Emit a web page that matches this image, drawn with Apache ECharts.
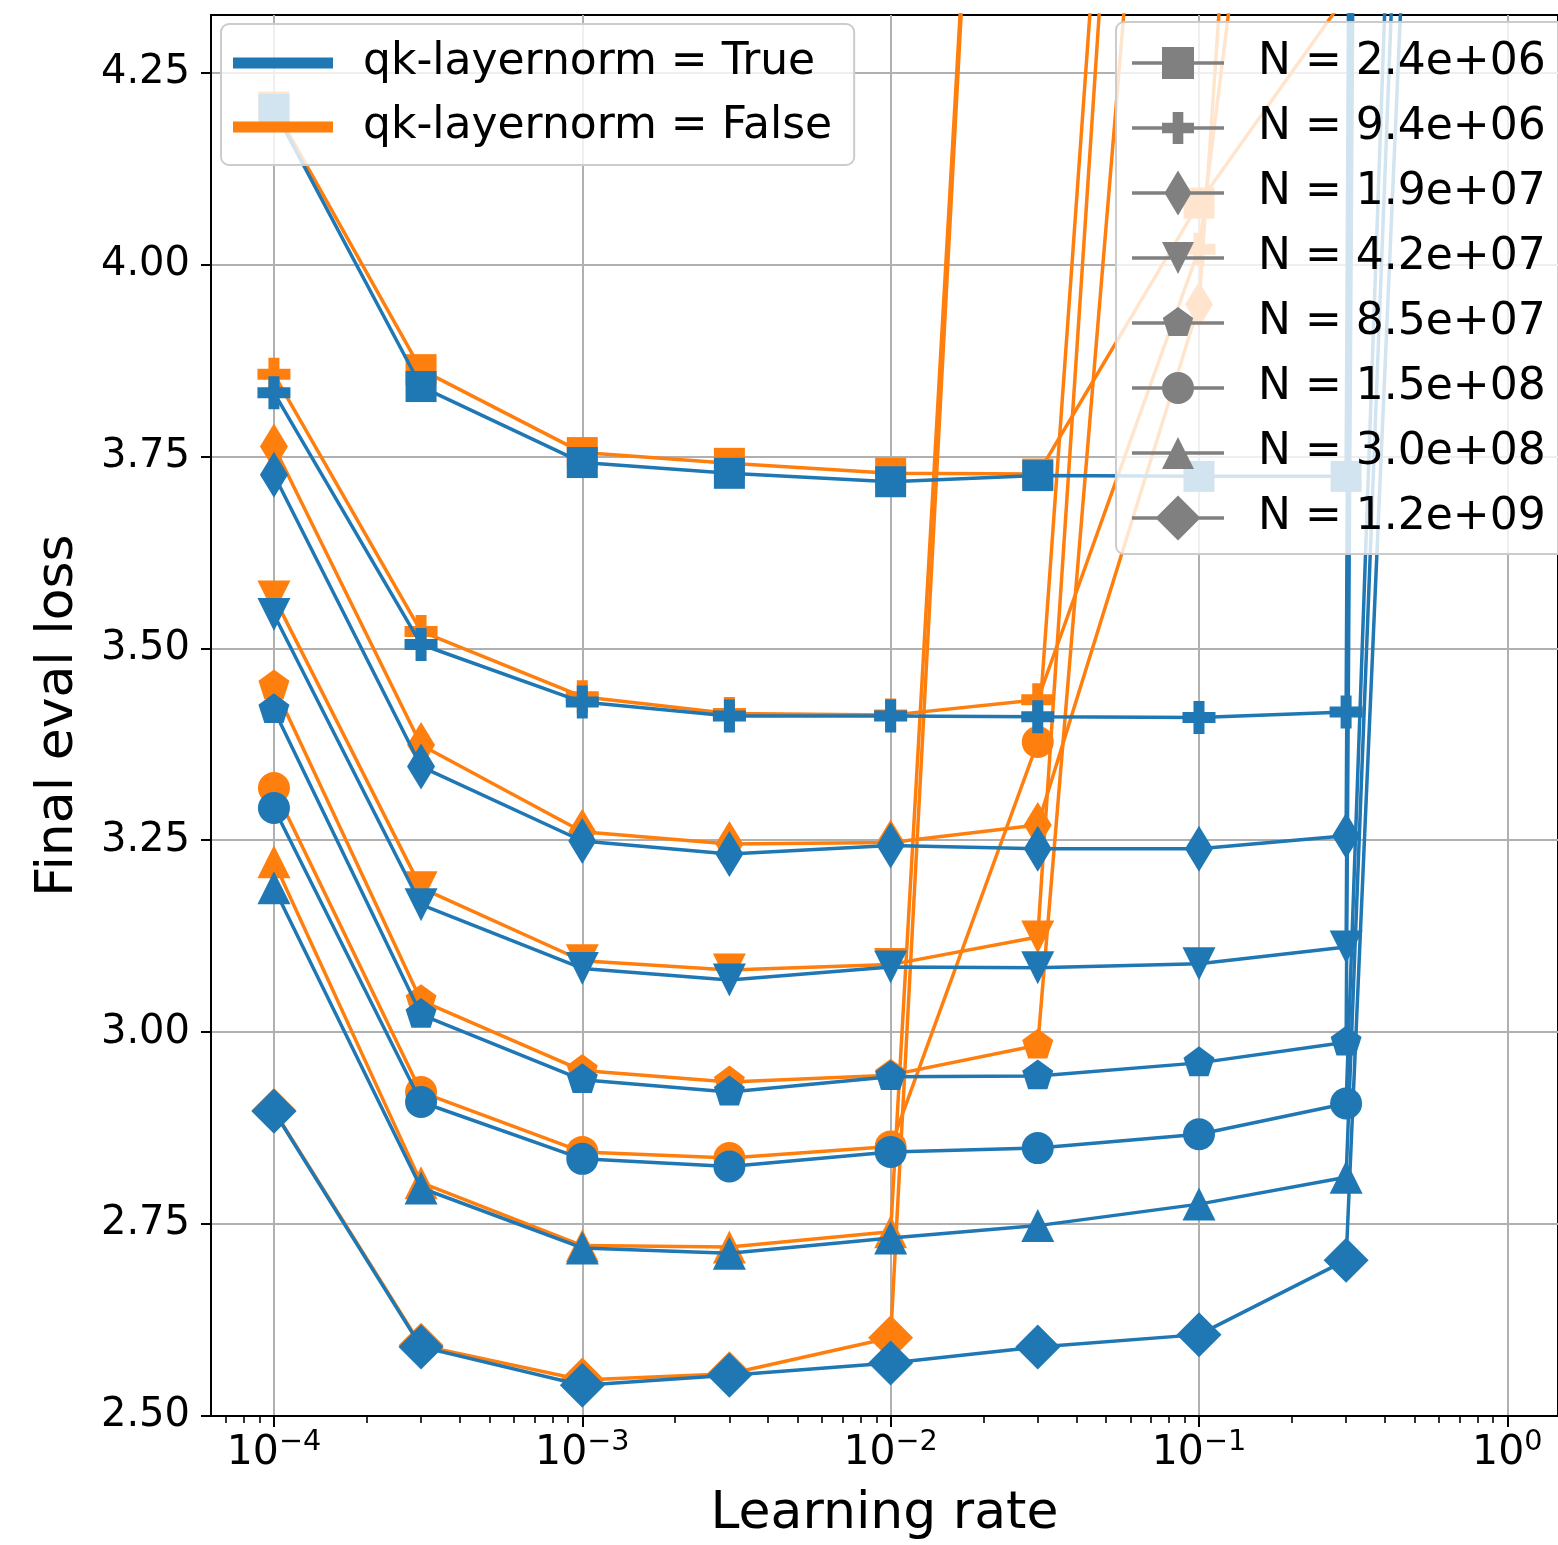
<!DOCTYPE html>
<html><head><meta charset="utf-8">
<script src="https://cdn.jsdelivr.net/npm/echarts@6/dist/echarts.min.js"></script>
<style>html,body{margin:0;padding:0;background:#fff}#chart{width:1558px;height:1545px}</style>
</head><body><div id="chart"></div>
<script>
// ---------------- data ----------------
const learningRates = [1e-4, 3e-4, 1e-3, 3e-3, 1e-2, 3e-2, 1e-1, 3e-1, 1e0];
const modelSizes = ['2.4e+06', '9.4e+06', '1.9e+07', '4.2e+07', '8.5e+07', '1.5e+08', '3.0e+08', '1.2e+09'];

// qk-layernorm = True (blue)
const lossTrue_2_4e6 = [4.202, 3.841, 3.742, 3.728, 3.717, 3.725, 3.724, 3.724, 45];
const lossTrue_9_4e6 = [3.833, 3.505, 3.430, 3.412, 3.412, 3.411, 3.410, 3.417, 42];
const lossTrue_1_9e7 = [3.726, 3.346, 3.249, 3.232, 3.243, 3.239, 3.239, 3.256, 40];
const lossTrue_4_2e7 = [3.544, 3.166, 3.083, 3.068, 3.085, 3.084, 3.089, 3.111, 38];
const lossTrue_8_5e7 = [3.420, 3.023, 2.938, 2.922, 2.942, 2.943, 2.960, 2.987, 36];
const lossTrue_1_5e8 = [3.292, 2.909, 2.835, 2.825, 2.844, 2.849, 2.867, 2.907, 8.85];
const lossTrue_3_0e8 = [3.188, 2.797, 2.719, 2.712, 2.732, 2.748, 2.776, 2.811, 8.23];
const lossTrue_1_2e9 = [2.897, 2.590, 2.540, 2.553, 2.569, 2.590, 2.606, 2.703, 7.52];

// qk-layernorm = False (orange)
const lossFalse_2_4e6 = [4.205, 3.863, 3.755, 3.741, 3.728, 3.727, 4.08, 4.35];
const lossFalse_9_4e6 = [3.857, 3.522, 3.437, 3.415, 3.413, 3.433, 4.02, 5.55];
const lossFalse_1_9e7 = [3.763, 3.374, 3.261, 3.245, 3.247, 3.270, 3.948, 6.74];
const lossFalse_4_2e7 = [3.567, 3.188, 3.093, 3.081, 3.088, 3.124, 6.28];
const lossFalse_8_5e7 = [3.451, 3.041, 2.950, 2.935, 2.944, 2.983, 5.50];
const lossFalse_1_5e8 = [3.318, 2.922, 2.844, 2.836, 2.851, 3.378, 6.31];
const lossFalse_3_0e8 = [3.222, 2.804, 2.722, 2.720, 2.740, 6.10];
const lossFalse_1_2e9 = [2.898, 2.592, 2.547, 2.555, 2.602, 6.20];

const xMajorTicks = [1e-4, 1e-3, 1e-2, 1e-1, 1e0];
const yTicks = [2.5, 2.75, 3.0, 3.25, 3.5, 3.75, 4.0, 4.25];
const qkLabels = ['qk-layernorm = True', 'qk-layernorm = False'];

// ---------------- styling ----------------
const BLUE = '#1f77b4', ORANGE = '#ff7f0e', GRAY = '#808080';
const FONT = 'DejaVu Sans';
const X_MIN = 6.25e-5, X_MAX = 1.46;

const xMinorTicks = [];
for (let e = -5; e <= 0; e++) {
  for (let k = 2; k <= 9; k++) {
    const v = k * Math.pow(10, e);
    if (v > X_MIN && v < X_MAX) xMinorTicks.push(v);
  }
}

// plot markers
const markers = [
  { symbol: 'rect', size: 31, rotate: 0 },
  { symbol: 'path://M1 0L2 0L2 1L3 1L3 2L2 2L2 3L1 3L1 2L0 2L0 1L1 1Z', size: 33, rotate: 0 },
  { symbol: 'path://M0 -1L0.6 0L0 1L-0.6 0Z', size: [28, 46], rotate: 0 },
  { symbol: 'triangle', size: 33, rotate: 180 },
  { symbol: 'path://M0 -1L0.951 -0.309L0.588 0.809L-0.588 0.809L-0.951 -0.309ZM-0.951 1L-0.951 1', size: [31, 33], rotate: 0 },
  { symbol: 'circle', size: 32, rotate: 0 },
  { symbol: 'triangle', size: 33, rotate: 0 },
  { symbol: 'diamond', size: 45, rotate: 0 }
];

// legend icons (line + marker), drawn in a 121 x 46 box
function legendIcon(i) {
  const cx = 46, cy = 23, r = 16;
  const box = 'M0 0L0 0M121 46L121 46';
  const line = 'M0 21.25L92 21.25L92 24.75L0 24.75Z';
  const P = pts => 'M' + pts.map(p => p[0].toFixed(2) + ' ' + p[1].toFixed(2)).join('L') + 'Z';
  let m;
  switch (i) {
    case 0: m = P([[cx - r, cy - r], [cx + r, cy - r], [cx + r, cy + r], [cx - r, cy + r]]); break;
    case 1: m = P([[cx - r / 3, cy - r], [cx + r / 3, cy - r], [cx + r / 3, cy - r / 3], [cx + r, cy - r / 3], [cx + r, cy + r / 3], [cx + r / 3, cy + r / 3], [cx + r / 3, cy + r], [cx - r / 3, cy + r], [cx - r / 3, cy + r / 3], [cx - r, cy + r / 3], [cx - r, cy - r / 3], [cx - r / 3, cy - r / 3]]); break;
    case 2: m = P([[cx, cy - 22.5], [cx + 13.5, cy], [cx, cy + 22.5], [cx - 13.5, cy]]); break;
    case 3: m = P([[cx - r, cy - r], [cx + r, cy - r], [cx, cy + r]]); break;
    case 4: m = P([[cx, cy - r], [cx + 0.951 * r, cy - 0.309 * r], [cx + 0.588 * r, cy + 0.809 * r], [cx - 0.588 * r, cy + 0.809 * r], [cx - 0.951 * r, cy - 0.309 * r]]); break;
    case 5: m = 'M' + (cx + r) + ' ' + cy + 'A' + r + ' ' + r + ' 0 1 1 ' + (cx - r) + ' ' + cy + 'A' + r + ' ' + r + ' 0 1 1 ' + (cx + r) + ' ' + cy + 'Z'; break;
    case 6: m = P([[cx, cy - r], [cx + r, cy + r], [cx - r, cy + r]]); break;
    case 7: m = P([[cx, cy - 22.5], [cx + 22.5, cy], [cx, cy + 22.5], [cx - 22.5, cy]]); break;
  }
  return 'path://' + box + line + m;
}
const qkIcon = 'path://M0 0L0 0M125 44L125 44M0 16.5L100 16.5L100 27.5L0 27.5Z';

const trueData = [lossTrue_2_4e6, lossTrue_9_4e6, lossTrue_1_9e7, lossTrue_4_2e7, lossTrue_8_5e7, lossTrue_1_5e8, lossTrue_3_0e8, lossTrue_1_2e9];
const falseData = [lossFalse_2_4e6, lossFalse_9_4e6, lossFalse_1_9e7, lossFalse_4_2e7, lossFalse_8_5e7, lossFalse_1_5e8, lossFalse_3_0e8, lossFalse_1_2e9];

function makeSeries(values, i, color, tag) {
  const mk = markers[i];
  return {
    name: tag + ' N = ' + modelSizes[i],
    type: 'line',
    data: values.map((v, j) => [learningRates[j], v]),
    symbol: mk.symbol, symbolSize: mk.size, symbolRotate: mk.rotate,
    showSymbol: true, showAllSymbol: true, clip: true,
    lineStyle: { color: color, width: 3.5 },
    itemStyle: { color: color, borderWidth: 0 },
    emphasis: { disabled: true },
    z: tag === 'True' ? 3 : 2,
    legendHoverLink: false
  };
}

const series = [];
falseData.forEach((vals, i) => series.push(makeSeries(vals, i, ORANGE, 'False')));
trueData.forEach((vals, i) => series.push(makeSeries(vals, i, BLUE, 'True')));
// legend-only series
qkLabels.forEach((name, i) => series.push({ name, type: 'line', data: [], itemStyle: { color: i === 0 ? BLUE : ORANGE }, lineStyle: { color: i === 0 ? BLUE : ORANGE } }));
modelSizes.forEach(n => series.push({ name: 'N = ' + n, type: 'line', data: [], itemStyle: { color: GRAY }, lineStyle: { color: GRAY } }));

const option = {
  animation: false,
  backgroundColor: '#fff',
  textStyle: { fontFamily: FONT },
  grid: { left: 211, top: 15, right: 0, bottom: 129, show: true, borderColor: '#000', borderWidth: 2, backgroundColor: 'transparent' },
  xAxis: [{
    type: 'log', logBase: 10, min: X_MIN, max: X_MAX,
    position: 'bottom',
    axisLine: { show: true, onZero: false, lineStyle: { color: '#000', width: 2 } },
    axisTick: { show: true, length: 11, lineStyle: { color: '#000', width: 2 }, customValues: xMajorTicks },
    axisLabel: {
      customValues: xMajorTicks, margin: 12, color: '#000',
      formatter: v => { const e = Math.round(Math.log10(v)); return '{b|10}{s|' + (e < 0 ? '\u2212' + (-e) : String(e)) + '}'; },
      rich: {
        b: { fontSize: 41, fontFamily: FONT, color: '#000', lineHeight: 46, verticalAlign: 'bottom' },
        s: { fontSize: 28.7, fontFamily: FONT, color: '#000', lineHeight: 30, verticalAlign: 'top' }
      }
    },
    splitLine: { show: true, lineStyle: { color: '#b0b0b0', width: 2 } },
    minorTick: { show: false },
    name: 'Learning rate', nameLocation: 'middle', nameGap: 72,
    nameTextStyle: { fontSize: 52, fontFamily: FONT, color: '#000' }
  }, {
    type: 'log', logBase: 10, min: X_MIN, max: X_MAX, gridIndex: 0,
    position: 'bottom',
    axisLine: { show: false, onZero: false },
    axisTick: { show: true, length: 7, lineStyle: { color: '#000', width: 1.6 }, customValues: xMinorTicks },
    axisLabel: { show: false },
    splitLine: { show: false }
  }],
  yAxis: {
    type: 'value', min: 2.5, max: 4.325, interval: 0.25,
    axisLine: { show: true, onZero: false, lineStyle: { color: '#000', width: 2 } },
    axisTick: { show: true, length: 10, lineStyle: { color: '#000', width: 2 }, customValues: yTicks },
    axisLabel: { customValues: yTicks, formatter: v => v.toFixed(2), fontSize: 40, fontFamily: FONT, color: '#000', margin: 21 },
    splitLine: { show: true, lineStyle: { color: '#b0b0b0', width: 2 } },
    name: 'Final eval loss', nameLocation: 'middle', nameGap: 127,
    nameTextStyle: { fontSize: 52, fontFamily: FONT, color: '#000' }
  },
  legend: [{
    orient: 'vertical', left: 221, top: 24, align: 'left',
    padding: [17, 22, 16, 12], itemGap: 20, itemWidth: 125, itemHeight: 44,
    backgroundColor: 'rgba(255,255,255,0.8)', borderColor: '#cccccc', borderWidth: 2, borderRadius: 8,
    selectedMode: false,
    textStyle: { fontSize: 44, fontFamily: FONT, color: '#000', lineHeight: 44 },
    data: qkLabels.map((n, i) => ({ name: n, icon: qkIcon, itemStyle: { color: i === 0 ? BLUE : ORANGE, borderWidth: 0 } }))
  }, {
    orient: 'vertical', left: 1116, top: 22, align: 'left',
    padding: [18, 20, 13, 16], itemGap: 19, itemWidth: 121, itemHeight: 46,
    backgroundColor: 'rgba(255,255,255,0.8)', borderColor: '#cccccc', borderWidth: 2, borderRadius: 8,
    selectedMode: false,
    textStyle: { fontSize: 44, fontFamily: FONT, color: '#000', lineHeight: 46 },
    data: modelSizes.map((n, i) => ({ name: 'N = ' + n, icon: legendIcon(i), itemStyle: { color: GRAY, borderWidth: 0 } }))
  }],
  series: series
};

const chart = echarts.init(document.getElementById('chart'), null, { renderer: 'canvas' });
chart.setOption(option);
</script>
</body></html>
